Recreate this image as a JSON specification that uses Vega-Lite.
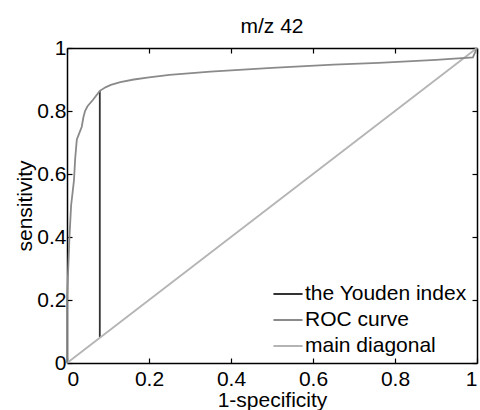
{
  "$schema": "https://vega.github.io/schema/vega-lite/v6.json",
  "width": 410,
  "height": 315,
  "autosize": "none",
  "padding": {"left": 67, "top": 48, "right": 3, "bottom": 47},
  "background": "white",
  "title": {"text": "m/z 42", "font": "Liberation Sans", "fontSize": 21, "fontWeight": "normal", "color": "black", "offset": 5, "dy": 5},
  "config": {
    "view": {"stroke": null},
    "axis": {
      "labelFont": "Liberation Sans",
      "titleFont": "Liberation Sans",
      "labelFontSize": 21,
      "titleFontSize": 21,
      "titleFontWeight": "normal",
      "labelColor": "black",
      "titleColor": "black",
      "domainColor": "black",
      "domainWidth": 1.5,
      "tickColor": "black",
      "tickWidth": 1.2,
      "tickSize": -5,
      "grid": false
    },
    "legend": {"labelFont": "Liberation Sans", "labelFontSize": 21, "labelColor": "black", "labelLimit": 300}
  },
  "datasets": {
    "curves": [
      {"series": "the Youden index", "i": 0, "x": 0.08, "y": 0.082},
      {"series": "the Youden index", "i": 1, "x": 0.08, "y": 0.864},
      {"series": "main diagonal", "i": 0, "x": 0, "y": 0},
      {"series": "main diagonal", "i": 1, "x": 1, "y": 1},
      {"series": "ROC curve", "i": 0, "x": 0, "y": 0},
      {"series": "ROC curve", "i": 1, "x": 0, "y": 0.2},
      {"series": "ROC curve", "i": 2, "x": 0.003, "y": 0.3},
      {"series": "ROC curve", "i": 3, "x": 0.006, "y": 0.4},
      {"series": "ROC curve", "i": 4, "x": 0.01, "y": 0.5},
      {"series": "ROC curve", "i": 5, "x": 0.017, "y": 0.58},
      {"series": "ROC curve", "i": 6, "x": 0.02, "y": 0.65},
      {"series": "ROC curve", "i": 7, "x": 0.024, "y": 0.71},
      {"series": "ROC curve", "i": 8, "x": 0.03, "y": 0.73},
      {"series": "ROC curve", "i": 9, "x": 0.036, "y": 0.75},
      {"series": "ROC curve", "i": 10, "x": 0.04, "y": 0.78},
      {"series": "ROC curve", "i": 11, "x": 0.044, "y": 0.8},
      {"series": "ROC curve", "i": 12, "x": 0.05, "y": 0.815},
      {"series": "ROC curve", "i": 13, "x": 0.063, "y": 0.835},
      {"series": "ROC curve", "i": 14, "x": 0.08, "y": 0.864},
      {"series": "ROC curve", "i": 15, "x": 0.095, "y": 0.876},
      {"series": "ROC curve", "i": 16, "x": 0.107, "y": 0.883},
      {"series": "ROC curve", "i": 17, "x": 0.13, "y": 0.892},
      {"series": "ROC curve", "i": 18, "x": 0.163, "y": 0.9},
      {"series": "ROC curve", "i": 19, "x": 0.2, "y": 0.907},
      {"series": "ROC curve", "i": 20, "x": 0.25, "y": 0.915},
      {"series": "ROC curve", "i": 21, "x": 0.35, "y": 0.925},
      {"series": "ROC curve", "i": 22, "x": 0.5, "y": 0.937},
      {"series": "ROC curve", "i": 23, "x": 0.65, "y": 0.947},
      {"series": "ROC curve", "i": 24, "x": 0.76, "y": 0.953},
      {"series": "ROC curve", "i": 25, "x": 0.9, "y": 0.962},
      {"series": "ROC curve", "i": 26, "x": 0.99, "y": 0.97},
      {"series": "ROC curve", "i": 27, "x": 1, "y": 1}
    ]
  },
  "data": {"name": "curves"},
  "layer": [
    {
      "mark": {"type": "line", "strokeWidth": 1.8},
      "encoding": {
        "x": {"field": "x", "type": "quantitative",
              "scale": {"domain": [0, 1], "nice": false},
              "axis": {"orient": "bottom", "title": "1-specificity", "values": [0, 0.2, 0.4, 0.6, 0.8, 1], "format": "~g", "labelPadding": 10, "titlePadding": 0}},
        "y": {"field": "y", "type": "quantitative",
              "scale": {"domain": [0, 1], "nice": false},
              "axis": {"orient": "left", "title": "sensitivity", "values": [0, 0.2, 0.4, 0.6, 0.8, 1], "format": "~g", "labelPadding": 6, "titlePadding": 1}},
        "color": {"field": "series", "type": "nominal",
                  "scale": {"domain": ["the Youden index", "ROC curve", "main diagonal"], "range": ["#333333", "#8a8a8a", "#b4b4b4"]},
                  "legend": {"title": null, "orient": "none", "legendX": 205, "legendY": 230, "symbolType": "stroke", "symbolSize": 850, "symbolStrokeWidth": 2, "rowPadding": -2, "labelOffset": 1}},
        "detail": {"field": "series"},
        "order": {"field": "i", "type": "quantitative"}
      }
    },
    {
      "data": {"values": [{"x": 0, "y": 0}, {"x": 1, "y": 1}]},
      "mark": {"type": "point", "opacity": 0},
      "encoding": {
        "x": {"field": "x", "type": "quantitative", "axis": {"orient": "top", "title": null, "labels": false, "values": [0, 0.2, 0.4, 0.6, 0.8, 1]}},
        "y": {"field": "y", "type": "quantitative", "axis": {"orient": "right", "title": null, "labels": false, "values": [0, 0.2, 0.4, 0.6, 0.8, 1]}}
      }
    }
  ],
  "resolve": {"axis": {"x": "independent", "y": "independent"}}
}
